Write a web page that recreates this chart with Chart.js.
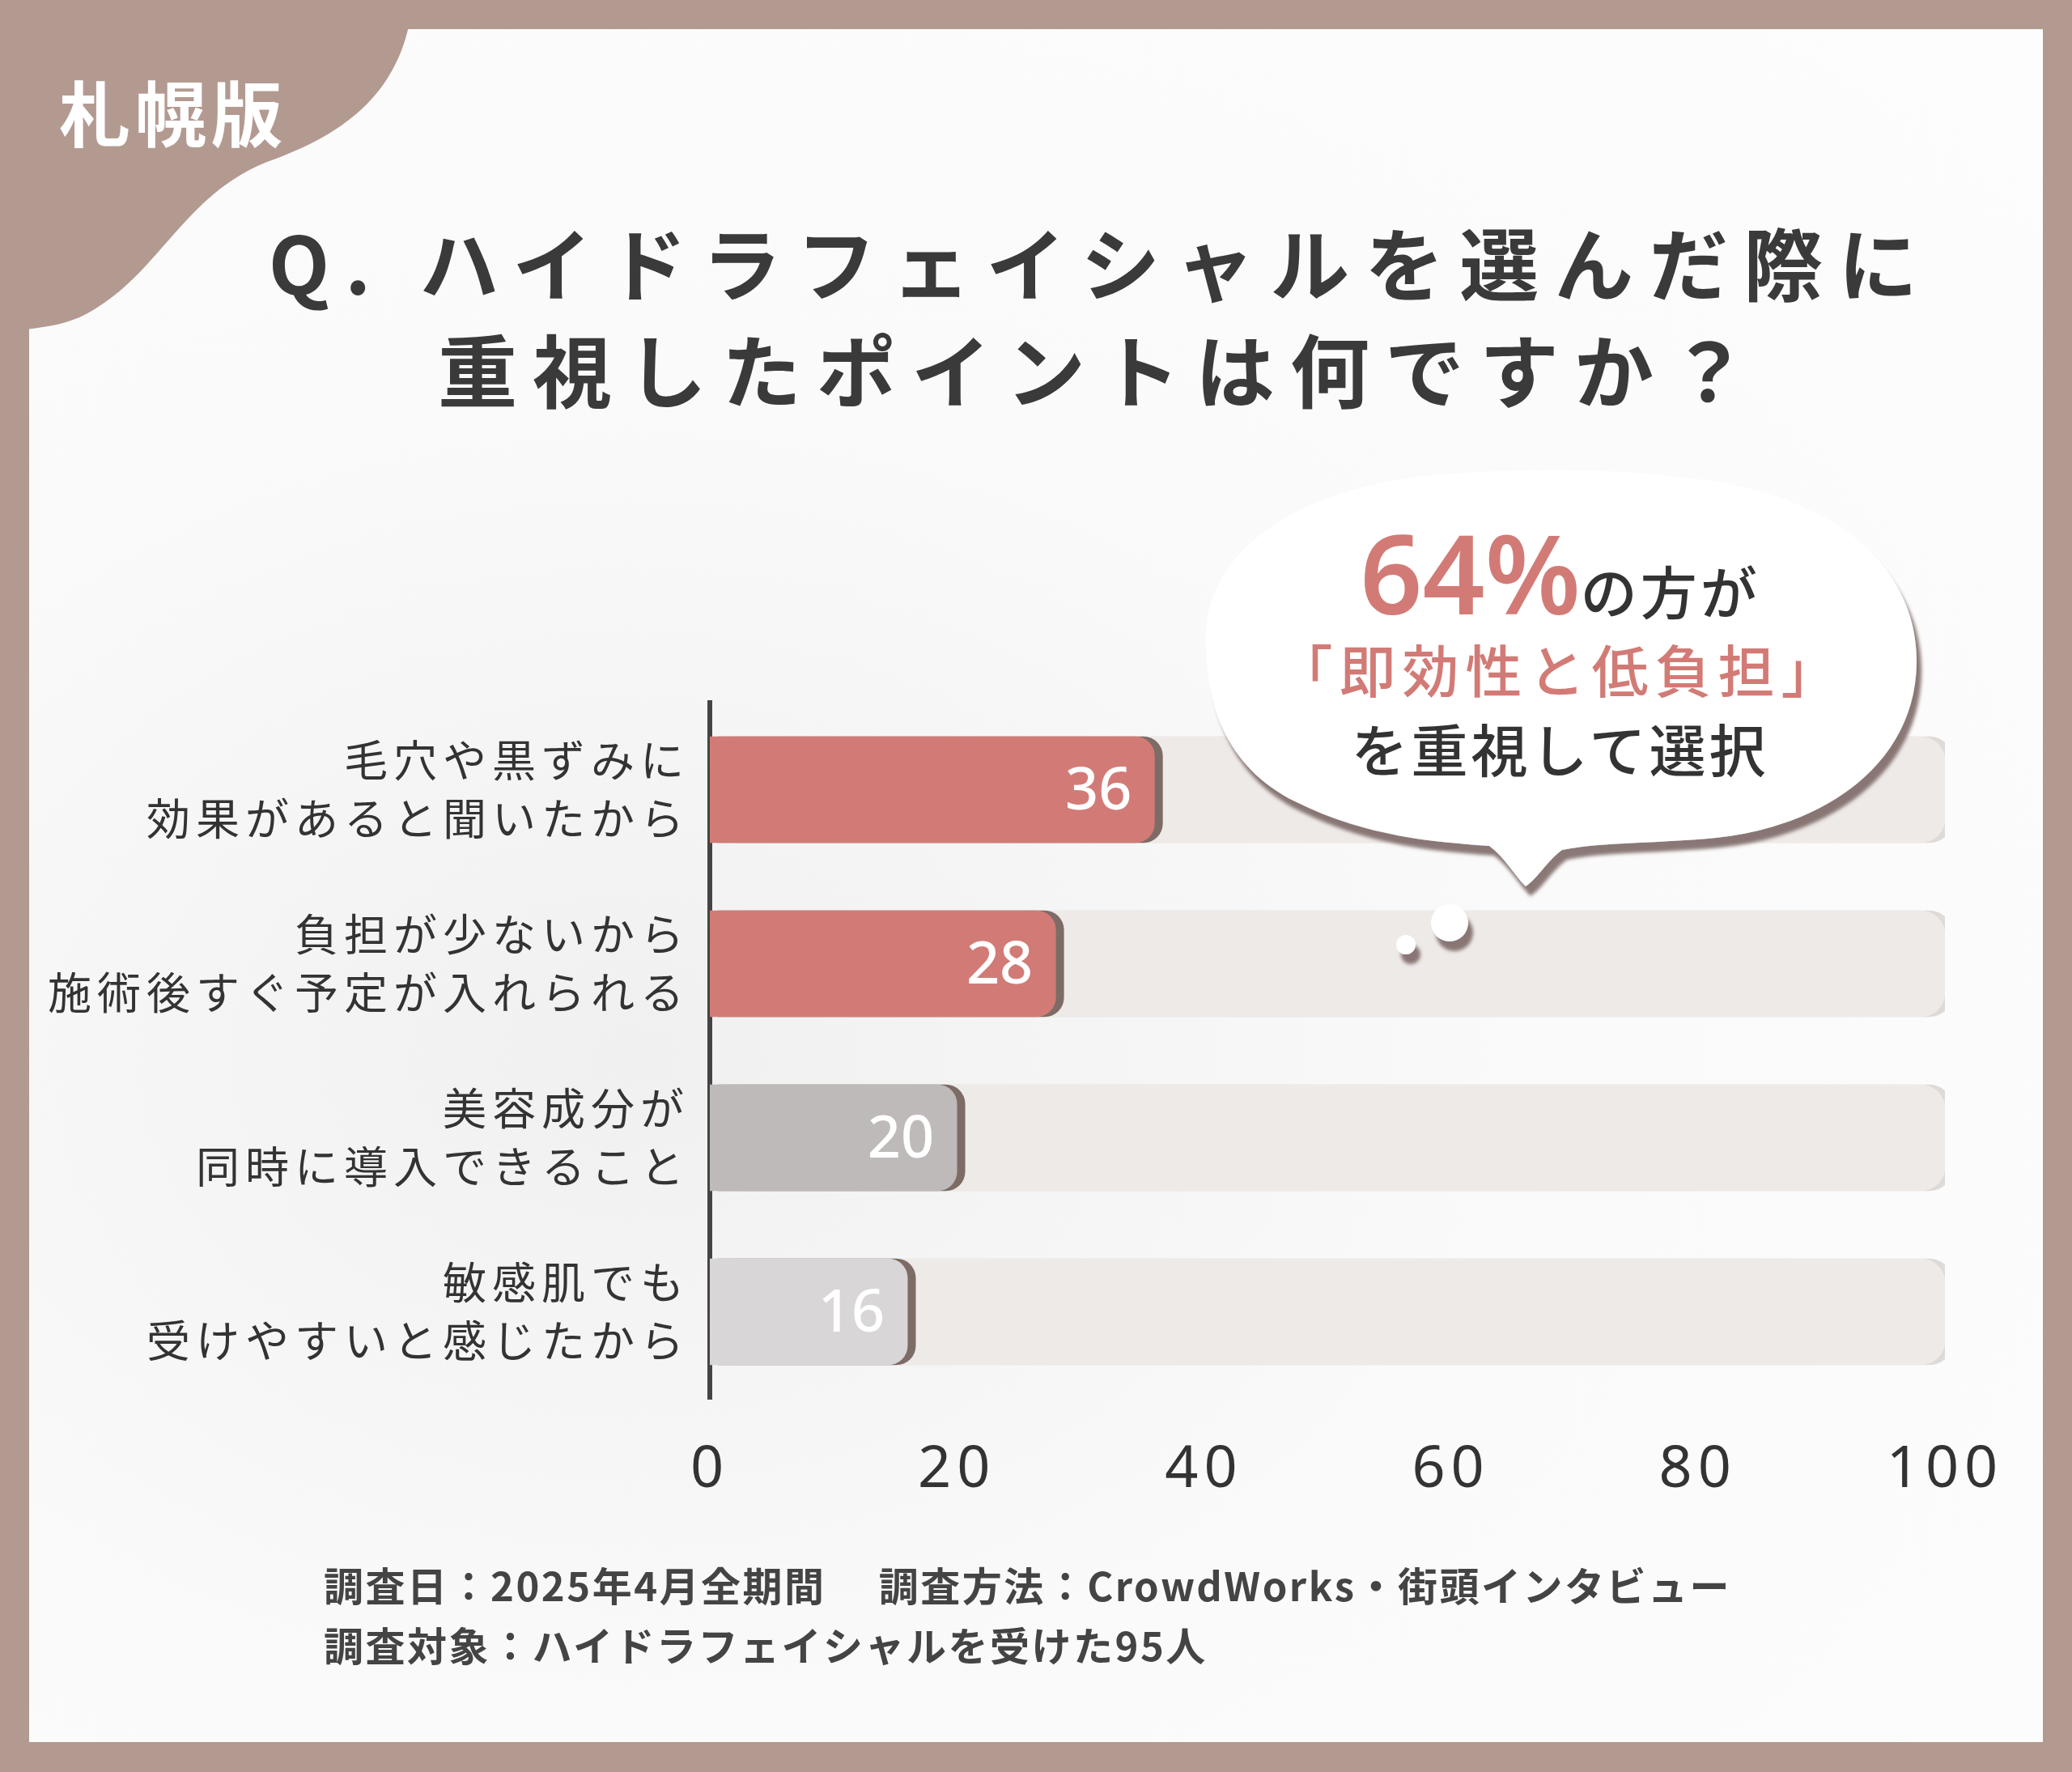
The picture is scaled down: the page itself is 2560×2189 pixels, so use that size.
<!DOCTYPE html>
<html><head><meta charset="utf-8">
<script src="https://cdn.jsdelivr.net/npm/chart.js@4.4.1/dist/chart.umd.min.js"></script>
<style>
html,body{margin:0;padding:0;}
body{width:2560px;height:2189px;background:#b39a91;position:relative;overflow:hidden;font-family:"Noto Sans CJK JP","Noto Sans",sans-serif;}
#card{position:absolute;left:36px;top:36px;width:2488px;height:2116px;background:radial-gradient(ellipse at 30% 60%,#f1f0f0 0%,#fafafa 45%,#fdfdfd 100%);}
#tab{position:absolute;left:0;top:0;}
#deco{position:absolute;left:0;top:0;z-index:2;}
#chart{position:absolute;left:0;top:0;z-index:1;}
.t{position:absolute;color:#333;white-space:nowrap;z-index:3;}
#title{left:80px;width:2560px;top:255px;text-align:center;font-size:98px;font-weight:700;letter-spacing:19px;line-height:132px;color:#3a3a3a;}
#area{left:73px;top:72px;font-size:88px;font-weight:700;color:#fff;letter-spacing:6px;}
.bub{left:1485px;width:885px;text-align:center;font-weight:500;}
#foot{left:400px;top:1920px;font-size:49px;font-weight:700;line-height:74px;color:#444;letter-spacing:2.5px;}
</style></head><body>
<div id="card"></div>
<svg id="tab" width="2560" height="2189" viewBox="0 0 2560 2189">
<path d="M0 0 H510 C500 110,430 165,330 200 C230 240,200 330,120 380 C90 400,60 405,0 410 Z" fill="#b39a91"/>
</svg>
<canvas id="chart" width="2560" height="2189"></canvas>
<svg id="deco" width="2560" height="2189" viewBox="0 0 2560 2189">
<defs><filter id="sh"><feDropShadow dx="6" dy="12" stdDeviation="2" flood-color="#7d6b66" flood-opacity="0.9"/></filter></defs>
<g filter="url(#sh)" fill="#ffffff">
<path d="M1490 800 C1480 660,1650 590,1800 585 C1900 578,2000 580,2080 590 C2250 605,2370 690,2368 820 C2366 940,2260 1020,2120 1035 C2050 1042,1980 1040,1930 1050 C1910 1065,1900 1085,1885 1095 C1870 1080,1860 1060,1840 1045 C1760 1040,1680 1030,1600 990 C1520 950,1492 880,1490 800 Z"/>
<circle cx="1791" cy="1140" r="23"/><circle cx="1737" cy="1167" r="12"/>
</g>
</svg>
<div class="t" id="area">札幌版</div>
<div class="t" id="title">Q. ハイドラフェイシャルを選んだ際に<br>重視したポイントは何ですか？</div>
<div class="t bub" style="top:615px;font-size:70px;letter-spacing:4px;"><span style="color:#d27b76;font-size:135px;font-family:'Noto Sans',sans-serif;font-weight:600;letter-spacing:0">64%</span>の方が</div>
<div class="t bub" style="top:775px;font-size:70px;letter-spacing:8px;color:#d27b76;">「即効性と低負担」</div>
<div class="t bub" style="top:873px;font-size:70px;letter-spacing:4px;">を重視して選択</div>
<div class="t" id="foot">調査日：2025年4月全期間　 調査方法：CrowdWorks・街頭インタビュー<br>調査対象：ハイドラフェイシャルを受けた95人</div>
<script>
const categories = [
  ['毛穴や黒ずみに', '効果があると聞いたから'],
  ['負担が少ないから', '施術後すぐ予定が入れられる'],
  ['美容成分が', '同時に導入できること'],
  ['敏感肌でも', '受けやすいと感じたから']
];
const values = [36, 28, 20, 16];
const fullValues = [100, 100, 100, 100];
const barColors = ['#d27b76', '#d27b76', '#bdbab9', '#d8d6d6'];
const xTicks = [0, 20, 40, 60, 80, 100];

const shadowPlugin = {
  id: 'shadow',
  beforeDraw(chart) { chart.ctx.letterSpacing = '7px'; },
  beforeDatasetDraw(chart, args) {
    const c = chart.ctx;
    c.save();
    c.shadowOffsetX = 10; c.shadowOffsetY = 0; c.shadowBlur = 0;
    c.shadowColor = args.index === 1 ? '#7d6b66' : '#dedad8';
  },
  afterDatasetDraw(chart) { chart.ctx.restore(); },
  afterDatasetsDraw(chart) {
    const c = chart.ctx;
    const meta = chart.getDatasetMeta(1);
    c.save();
    c.letterSpacing = '0px';
    c.fillStyle = '#fff';
    c.font = '500 72px "Noto Sans", sans-serif';
    c.textAlign = 'right';
    c.textBaseline = 'middle';
    meta.data.forEach((bar, i) => c.fillText(String(values[i]), bar.x - 28, bar.y + 4));
    c.restore();
  }
};

new Chart(document.getElementById('chart'), {
  type: 'bar',
  data: {
    labels: categories,
    datasets: [
      { data: fullValues, backgroundColor: '#eeeae8', borderRadius: 30, borderSkipped: false, grouped: false, barThickness: 131, order: 2 },
      { data: values, backgroundColor: barColors, borderRadius: { topRight: 24, bottomRight: 24 }, borderSkipped: false, grouped: false, barThickness: 131, order: 1 }
    ]
  },
  plugins: [shadowPlugin],
  options: {
    indexAxis: 'y',
    responsive: false,
    animation: false,
    layout: { padding: { top: 868, right: 157, left: 0, bottom: 0 } },
    plugins: { legend: { display: false }, tooltip: { enabled: false } },
    scales: {
      x: {
        min: 0, max: 100,
        afterBuildTicks(s) { s.ticks = xTicks.map(v => ({ value: v })); },
        afterFit(s) { s.height = 461; },
        grid: { display: false, drawTicks: false },
        border: { display: false },
        ticks: { color: '#333', font: { size: 72, family: '"Noto Sans", sans-serif' }, padding: 45 }
      },
      y: {
        afterFit(s) { s.width = 877; },
        grid: { display: false, drawTicks: false },
        border: { display: true, color: '#444', width: 6 },
        ticks: { color: '#333', font: { size: 54, family: '"Noto Sans CJK JP", sans-serif', lineHeight: 1.35 }, padding: 25 }
      }
    }
  }
});
</script>
</body></html>
